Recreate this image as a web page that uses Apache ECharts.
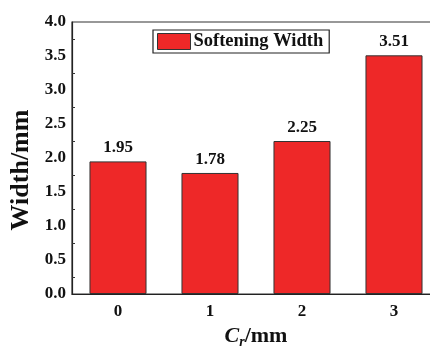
<!DOCTYPE html>
<html><head><meta charset="utf-8">
<script src="https://cdn.jsdelivr.net/npm/echarts@6/dist/echarts.min.js"></script>
<style>html,body{margin:0;padding:0;background:#fff}#c{width:430px;height:347px}</style>
</head><body><div id="c"></div>
<script>
const categories = ['0', '1', '2', '3'];
const widthValues = [1.95, 1.78, 2.25, 3.51];
const seriesName = 'Softening Width';
const yTickLabels = ['0.0','0.5','1.0','1.5','2.0','2.5','3.0','3.5','4.0'];

const FONT = "'Liberation Serif','Times New Roman',serif";
const chart = echarts.init(document.getElementById('c'), null, {renderer:'canvas'});
chart.setOption({
  animation:false,
  backgroundColor:'#fff',
  grid:{left:72, top:22, right:-10, bottom:53, show:true, borderColor:'#333', borderWidth:1.2,
    containLabel:false, outerBoundsMode:'none'},
  legend:{
    data:[{name:seriesName, icon:'rect'}], left:153, top:30, padding:[2,6,2,4], itemGap:0,
    itemWidth:33, itemHeight:16, borderColor:'#222', borderWidth:1.2,
    textStyle:{fontFamily:FONT, fontWeight:'bold', fontSize:18.5, color:'#111', padding:[0,0,0,-2]},
    itemStyle:{borderColor:'#333', borderWidth:1}
  },
  xAxis:{
    type:'category', data:categories,
    axisLine:{lineStyle:{color:'#222', width:1.2}},
    axisTick:{inside:true, length:3, lineStyle:{color:'#333'}},
    axisLabel:{fontFamily:FONT, fontWeight:'bold', fontSize:17, color:'#111', margin:9},
    name:'{i|C}{s|r}{n|/mm}', nameLocation:'middle', nameGap:29,
    nameTextStyle:{rich:{
      i:{fontFamily:FONT, fontStyle:'italic', fontWeight:'bold', fontSize:22, color:'#111'},
      s:{fontFamily:FONT, fontStyle:'italic', fontWeight:'bold', fontSize:14, color:'#111', verticalAlign:'bottom', padding:[12,0,0,0]},
      n:{fontFamily:FONT, fontWeight:'bold', fontSize:22, color:'#111'}
    }}
  },
  yAxis:{
    type:'value', min:0, max:4, interval:0.5,
    axisLine:{show:true, lineStyle:{color:'#222', width:1.2}},
    axisTick:{inside:true, length:5, lineStyle:{color:'#333'}},
    minorTick:{show:true, splitNumber:2, length:3, lineStyle:{color:'#333'}},
    splitLine:{show:false},
    axisLabel:{fontFamily:FONT, fontWeight:'bold', fontSize:17, color:'#111', margin:6,
      formatter:(v)=>yTickLabels[Math.round(v/0.5)]},
    name:'Width/mm', nameLocation:'middle', nameGap:38,
    nameTextStyle:{fontFamily:FONT, fontWeight:'bold', fontSize:26, color:'#111', padding:[0,24,0,0]}
  },
  series:[{
    name:seriesName, type:'bar', data:widthValues, barWidth:'62%',
    itemStyle:{color:'#EE2828', borderColor:'#333', borderWidth:1},
    label:{show:true, position:'top', distance:5, fontFamily:FONT, fontWeight:'bold', fontSize:17, color:'#111',
      formatter:(p)=>p.value.toFixed(2)}
  }]
});
</script></body></html>
